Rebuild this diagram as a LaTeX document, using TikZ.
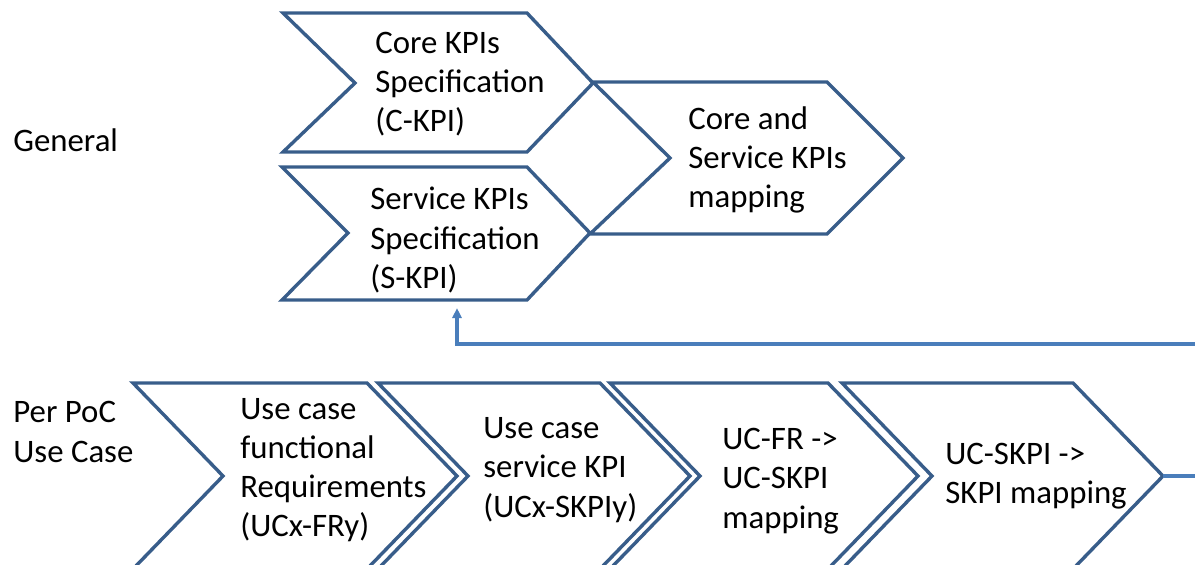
\documentclass[tikz,border=0pt]{standalone}
\usepackage{fontspec}
\setmainfont{Carlito}
\usetikzlibrary{arrows.meta}
\definecolor{chevblue}{RGB}{56,93,138}
\definecolor{linkblue}{RGB}{74,126,187}
\tikzset{
  chev/.style={draw=chevblue, line width=1.7pt, line join=miter},
  lbl/.style={anchor=west, align=left, inner sep=0pt, font=\fontsize{16.4}{19.6}\selectfont},
  feedback/.style={draw=linkblue, line width=1.8pt, -{Triangle[width=4.5pt,length=5pt]}}
}
\begin{document}
\begin{tikzpicture}[x=0.5pt, y=-0.5pt]
    \useasboundingbox (0,0) rectangle (1195,564);
    \clip (0,0) rectangle (1195,564);

    % general row
    \draw[chev] (283,13) -- (527,13) -- (593,83) -- (527,152) -- (283,152) -- (355,83) -- cycle;
    \draw[chev] (282,167) -- (527,167) -- (590,233) -- (527,300) -- (282,300) -- (348,233) -- cycle;
    \draw[chev] (593,82) -- (827,82) -- (903,158) -- (827,234) -- (590,234) -- (670,158) -- cycle;

    % per use case row
    \foreach \l/\r in {133/367, 378/600, 610/828, 842/1073} {
            \draw[chev] (\l,383) -- (\r,383) -- ++(90,93) -- (\r,569) -- (\l,569) -- ++(90,-93) -- cycle;
        }

    \coordinate (skpiin) at (457,308);
    \coordinate (mapout) at (1163,476);

    \node[lbl] (general) at (13,140) {General};
    \node[lbl] (perpoc) at (13,432) {Per PoC\\Use Case};

    \node[lbl] (ckpi) at (375,84) {Core KPIs\\Specification\\(C-KPI)};
    \node[lbl] (skpi) at (370,240) {Service KPIs\\Specification\\(S-KPI)};
    \node[lbl] (kpimap) at (688,160) {Core and\\Service KPIs\\mapping};

    \node[lbl] (ucfr) at (240,470) {Use case\\functional\\Requirements\\(UCx-FRy)};
    \node[lbl] (ucskpi) at (483,470) {Use case\\service KPI\\(UCx-SKPIy)};
    \node[lbl] (frmap) at (722,481) {UC-FR ->\\UC-SKPI\\mapping};
    \node[lbl] (skpimap) at (945,476) {UC-SKPI ->\\SKPI mapping};

    \draw[feedback] (mapout) -- (1220,476) |- (457,344) -- (skpiin);
\end{tikzpicture}
\end{document}
